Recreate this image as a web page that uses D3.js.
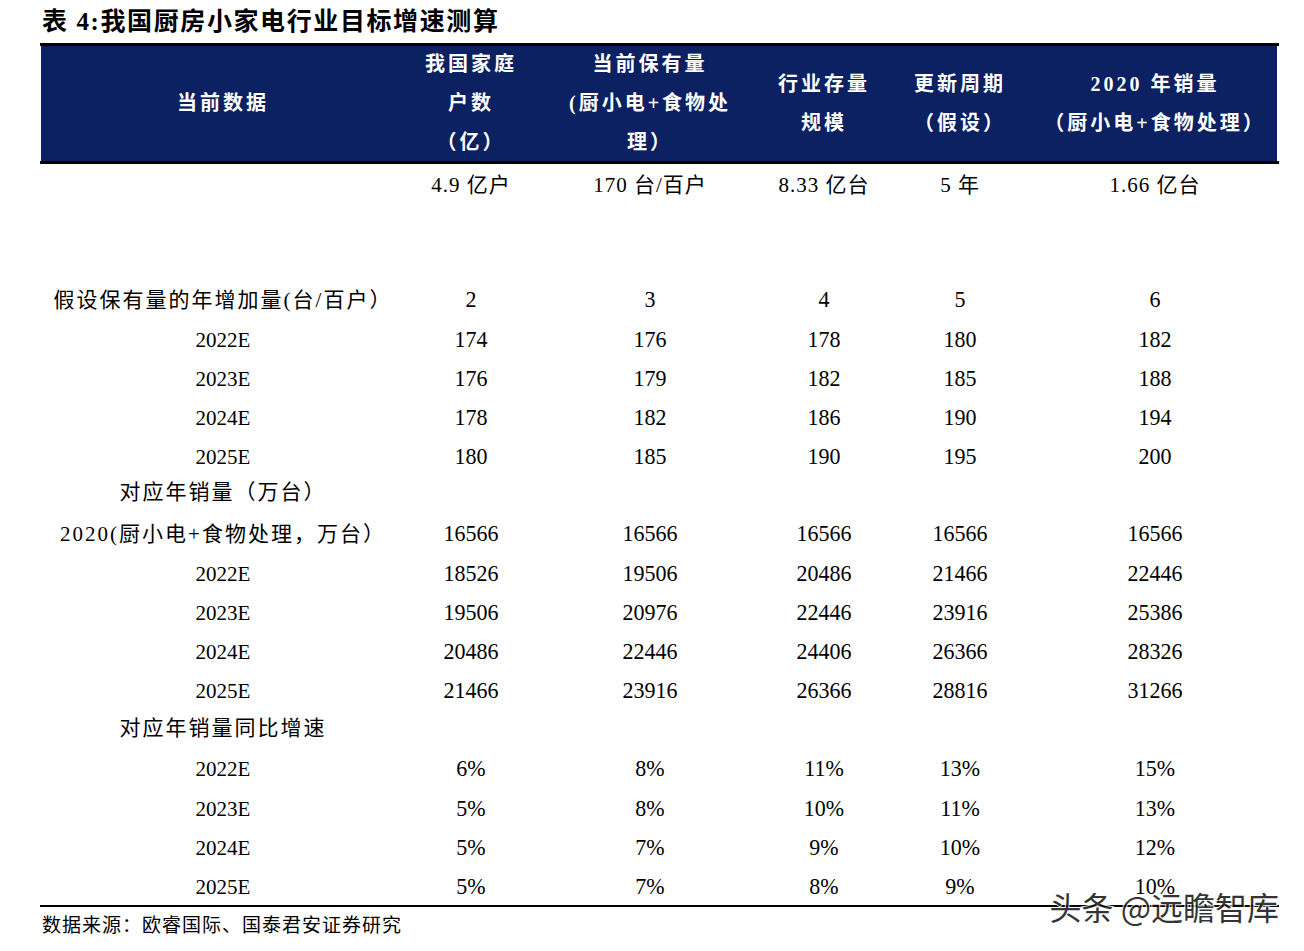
<!DOCTYPE html>
<html>
<head>
<meta charset="utf-8">
<script src="https://cdn.jsdelivr.net/npm/d3@7"></script>
<style>
  body { margin: 0; background: #fff; }
  svg { display: block; }
</style>
</head>
<body>
<div id="chart"></div>
<script>
const title = '表 4:我国厨房小家电行业目标增速测算'
const source = '数据来源：欧睿国际、国泰君安证券研究'

const headers = [
  ['当前数据'],
  ['我国家庭', '户数', '（亿）'],
  ['当前保有量', '(厨小电+食物处', '理）'],
  ['行业存量', '规模'],
  ['更新周期', '（假设）'],
  ['2020 年销量', '（厨小电+食物处理）']
]

const currentData = ['', '4.9 亿户', '170 台/百户', '8.33 亿台', '5 年', '1.66 亿台']

const years = ['2022E', '2023E', '2024E', '2025E']
const increments = [2, 3, 4, 5, 6]
const ownership = [
  [174, 176, 178, 180, 182],
  [176, 179, 182, 185, 188],
  [178, 182, 186, 190, 194],
  [180, 185, 190, 195, 200]
]
const sales2020 = [16566, 16566, 16566, 16566, 16566]
const sales = [
  [18526, 19506, 20486, 21466, 22446],
  [19506, 20976, 22446, 23916, 25386],
  [20486, 22446, 24406, 26366, 28326],
  [21466, 23916, 26366, 28816, 31266]
]
const growth = [
  [6, 8, 11, 13, 15],
  [5, 8, 10, 11, 13],
  [5, 7, 9, 10, 12],
  [5, 7, 8, 9, 10]
]

// body rows, built from the arrays above
const rows = [
  { label: '假设保有量的年增加量(台/百户）', cells: increments },
  ...years.map((y, i) => ({ label: y, cells: ownership[i] })),
  { label: '对应年销量（万台）', cells: [], gap: 35 },
  { label: '2020(厨小电+食物处理，万台）', cells: sales2020, gap: 42 },
  ...years.map((y, i) => ({ label: y, cells: sales[i] })),
  { label: '对应年销量同比增速', cells: [], gap: 37 },
  ...years.map((y, i) => ({ label: y, cells: growth[i].map(v => v + '%'), gap: i === 0 ? 41 : undefined }))
]

const width = 1304
const height = 951
const left = 40
const right = 1279
const font = '"Liberation Serif", "Noto Sans CJK SC", serif'
const navy = '#0b2162'

const svg = d3.select('#chart')
  .append('svg')
  .attr('width', width)
  .attr('height', height)

const x = d3.scaleOrdinal()
  .domain(d3.range(6))
  .range([223, 471, 650, 824, 960, 1155])

// row positions accumulate from row gaps
let acc = 299.5
const rowY = rows.map((r, i) => {
  if (i > 0) acc += r.gap || 39.25
  return acc
})
const y = d3.scaleOrdinal().domain(d3.range(rows.length)).range(rowY)

svg.append('text')
  .attr('x', 42)
  .attr('y', 30)
  .attr('font-family', font)
  .attr('font-weight', 'bold')
  .attr('font-size', 25)
  .attr('letter-spacing', 1.6)
  .text(title)

svg.append('rect')
  .attr('x', left)
  .attr('y', 43)
  .attr('width', right - left)
  .attr('height', 3)
  .attr('fill', '#000')

svg.append('rect')
  .attr('x', 41)
  .attr('y', 46)
  .attr('width', 1236)
  .attr('height', 115)
  .attr('fill', navy)

svg.append('rect')
  .attr('x', left)
  .attr('y', 161)
  .attr('width', right - left)
  .attr('height', 3)
  .attr('fill', '#000')

const headerMid = 103
const lineGap = 39
headers.forEach((lines, c) => {
  const start = headerMid - (lines.length - 1) * lineGap / 2
  lines.forEach((line, k) => {
    svg.append('text')
      .attr('x', x(c))
      .attr('y', start + k * lineGap)
      .attr('dy', '0.35em')
      .attr('text-anchor', 'middle')
      .attr('font-family', font)
      .attr('font-weight', 'bold')
      .attr('font-size', 20)
      .attr('letter-spacing', 3)
      .attr('fill', '#fff')
      .text(line)
  })
})

currentData.forEach((d, c) => {
  svg.append('text')
    .attr('x', x(c))
    .attr('y', 185)
    .attr('dy', '0.35em')
    .attr('text-anchor', 'middle')
    .attr('font-family', font)
    .attr('font-size', 21)
    .attr('letter-spacing', 1)
    .text(d)
})

const rowG = svg.selectAll('g.row')
  .data(rows)
  .join('g')
  .attr('class', 'row')
  .attr('transform', (d, i) => `translate(0, ${y(i)})`)

rowG.append('text')
  .attr('x', x(0))
  .attr('dy', '0.38em')
  .attr('text-anchor', 'middle')
  .attr('font-family', font)
  .attr('font-size', 21)
  .attr('letter-spacing', d => /[\u4e00-\u9fff]/.test(d.label) ? 2 : 0)
  .text(d => d.label)

rowG.selectAll('text.cell')
  .data(d => d.cells)
  .join('text')
  .attr('class', 'cell')
  .attr('x', (d, i) => x(i + 1))
  .attr('dy', '0.33em')
  .attr('text-anchor', 'middle')
  .attr('font-family', font)
  .attr('font-size', 22)
  .attr('transform', 'scale(1, 1.08)')
  .attr('transform-origin', (d, i) => `${x(i + 1)}px 0px`)
  .text(d => d)

svg.append('rect')
  .attr('x', left)
  .attr('y', 905)
  .attr('width', right - left)
  .attr('height', 2)
  .attr('fill', '#000')

svg.append('text')
  .attr('x', 42)
  .attr('y', 932)
  .attr('font-family', font)
  .attr('font-size', 19)
  .attr('letter-spacing', 1)
  .text(source)

svg.append('text')
  .attr('x', 1279)
  .attr('y', 920)
  .attr('text-anchor', 'end')
  .attr('font-family', '"Noto Sans CJK SC", sans-serif')
  .attr('font-size', 32)
  .attr('fill', '#111')
  .attr('stroke', '#fff')
  .attr('stroke-width', 2)
  .attr('paint-order', 'stroke')
  .attr('opacity', 0.85)
  .text('头条 @远瞻智库')
</script>
</body>
</html>
